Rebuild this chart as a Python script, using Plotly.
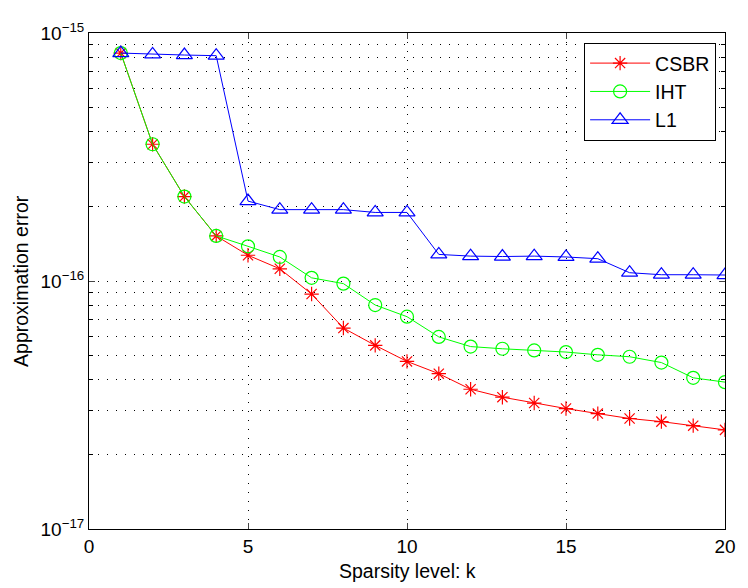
import plotly.graph_objects as go

k = list(range(1, 21))
csbr = [8.3e-16, 3.56e-16, 2.19e-16, 1.52e-16, 1.27e-16, 1.12e-16, 8.86e-17, 6.46e-17,
        5.5e-17, 4.74e-17, 4.23e-17, 3.66e-17, 3.40e-17, 3.22e-17, 3.06e-17, 2.92e-17,
        2.79e-17, 2.71e-17, 2.61e-17, 2.51e-17]
iht = [8.3e-16, 3.56e-16, 2.19e-16, 1.52e-16, 1.38e-16, 1.25e-16, 1.03e-16, 9.76e-17,
       8.0e-17, 7.18e-17, 5.95e-17, 5.44e-17, 5.33e-17, 5.25e-17, 5.17e-17, 5.04e-17,
       4.95e-17, 4.69e-17, 4.07e-17, 3.91e-17]
l1 = [8.3e-16, 8.2e-16, 8.15e-16, 8.1e-16, 2.1e-16, 1.94e-16, 1.94e-16, 1.94e-16,
      1.89e-16, 1.89e-16, 1.28e-16, 1.26e-16, 1.255e-16, 1.26e-16, 1.25e-16, 1.23e-16,
      1.08e-16, 1.06e-16, 1.06e-16, 1.057e-16]

y_tickvals = [1e-17, 1e-16, 1e-15]
y_ticktext = ["10<sup>−17</sup>", "10<sup>−16</sup>", "10<sup>−15</sup>"]
y_minor = [m * 10.0 ** e for e in (-17, -16) for m in range(2, 10)]
x_tickvals = [0, 5, 10, 15, 20]

FONT = "Liberation Sans, Arial, Helvetica, sans-serif"
DOT = "1px,8px"

fig = go.Figure()
fig.add_trace(go.Scatter(x=k, y=csbr, name="CSBR", mode="lines+markers",
                         line=dict(color="#ff0000", width=1),
                         marker=dict(symbol="asterisk-open", size=12,
                                     line=dict(color="#ff0000", width=1.2))))
fig.add_trace(go.Scatter(x=k, y=iht, name="IHT", mode="lines+markers",
                         line=dict(color="#00ff00", width=1),
                         marker=dict(symbol="circle-open", size=13, color="#00ff00",
                                     line=dict(color="#00ff00", width=1.2))))
fig.add_trace(go.Scatter(x=k, y=l1, name="L1", mode="lines+markers",
                         line=dict(color="#0000ff", width=1),
                         marker=dict(symbol="triangle-up-open", size=14, color="#0000ff",
                                     line=dict(color="#0000ff", width=1.2))))

# page body has an 8px default margin, so the figure is 740x580 and offsets are reduced by 8
fig.update_layout(
    width=740, height=580,
    margin=dict(l=81, r=14, t=13, b=59),
    paper_bgcolor="white", plot_bgcolor="white",
    font=dict(family=FONT, size=19, color="black"),
    showlegend=True,
    legend=dict(x=0.986, y=0.98, xanchor="right", yanchor="top",
                bgcolor="white", bordercolor="black", borderwidth=1,
                font=dict(size=19.5), tracegroupgap=0, itemwidth=60),
    xaxis=dict(range=[0, 20], tickvals=x_tickvals, ticks="inside", ticklen=6,
               showline=True, linecolor="black", linewidth=1, mirror="ticks",
               showgrid=True, gridcolor="black", gridwidth=1, griddash=DOT,
               zeroline=False, tickfont=dict(size=19), ticklabeloverflow="allow"),
    yaxis=dict(type="log", range=[-17, -15], tickvals=y_tickvals, ticktext=y_ticktext,
               ticks="inside", ticklen=6,
               showline=True, linecolor="black", linewidth=1, mirror="ticks",
               showgrid=True, gridcolor="black", gridwidth=1, griddash=DOT,
               zeroline=False, tickfont=dict(size=19), ticklabeloverflow="allow",
               minor=dict(tickvals=y_minor, ticks="inside", ticklen=4, tickcolor="black",
                          showgrid=True, gridcolor="black", gridwidth=1, griddash=DOT)),
    annotations=[
        dict(text="Sparsity level: k", xref="paper", yref="paper", x=0.5, y=-0.085,
             xanchor="center", yanchor="middle", showarrow=False, font=dict(size=19.5)),
        dict(text="Approximation error", xref="paper", yref="paper", x=-0.107, y=0.5,
             xanchor="center", yanchor="middle", textangle=-90, showarrow=False,
             font=dict(size=19.5)),
    ],
)

fig.write_html("out.html")
